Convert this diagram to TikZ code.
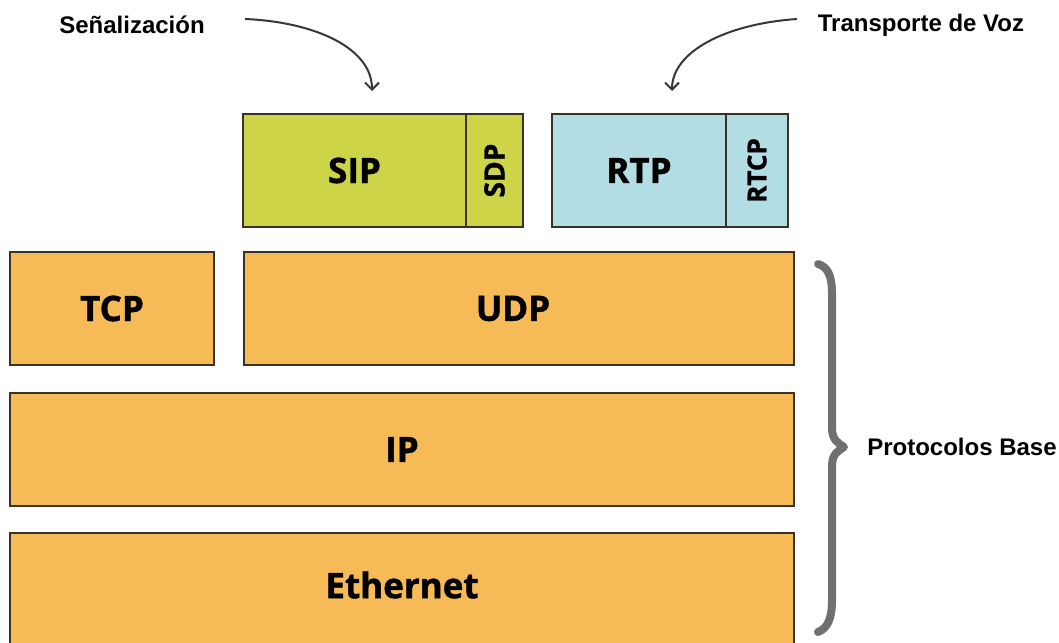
\documentclass[tikz,border=0pt]{standalone}
\usepackage{fontspec}
\usepackage{graphicx}
\setmainfont{Open Sans}[BoldFeatures={FakeBold=1.3}]
\newfontfamily\annfont{Liberation Sans}
\usetikzlibrary{arrows.meta}
\definecolor{orangebox}{RGB}{246,186,86}
\definecolor{greenbox}{RGB}{205,212,72}
\definecolor{bluebox}{RGB}{178,221,228}
\definecolor{edgec}{RGB}{58,50,36}
\definecolor{bracec}{RGB}{112,112,112}
\definecolor{arrc}{RGB}{55,55,55}
\begin{document}
\begin{tikzpicture}[x=1pt,y=-1pt,
  boxbase/.style={draw=edgec, line width=1.4pt, rectangle, inner sep=0pt, text=black},
  layerbox/.style={boxbase, fill=orangebox, minimum height=113pt, font=\bfseries\fontsize{35}{40}\selectfont},
  sigbox/.style={boxbase, fill=greenbox, minimum height=113pt, font=\bfseries\fontsize{35}{40}\selectfont},
  voicebox/.style={boxbase, fill=bluebox, minimum height=113pt, font=\bfseries\fontsize{35}{40}\selectfont},
  sdptxt/.style={font=\bfseries\fontsize{28}{30}\selectfont},
  rtcptxt/.style={font=\bfseries\fontsize{26}{30}\selectfont},
  annot/.style={font=\annfont\bfseries\fontsize{24}{28}\selectfont, inner sep=0pt, text=black},
  curvearrow/.style={draw=arrc, line width=2pt, -{Straight Barb[length=7pt,width=14pt,line width=2pt]}}
]
\useasboundingbox (0,0) rectangle (1059,642);
\clip (0,0) rectangle (1059,642);

% upper application boxes
\node[sigbox, minimum width=223pt] (sip) at (354.5,170.5) {SIP};
\node[sigbox, sdptxt, minimum width=57pt] (sdp) at (494.5,170.5) {\rotatebox{90}{SDP}};
\node[voicebox, minimum width=174pt] (rtp) at (639,170.5) {RTP};
\node[voicebox, rtcptxt, minimum width=62pt] (rtcp) at (757,170.5) {\rotatebox{90}{RTCP}};

% base protocol layers
\node[layerbox, minimum width=204pt] (tcp) at (112,308.5) {TCP};
\node[layerbox, minimum width=550pt] (udp) at (519,308.5) {\hspace*{-12pt}UDP};
\node[layerbox, minimum width=784pt] (ip) at (402,449.5) {\raisebox{-5pt}{IP}};
\fill[orangebox] (10,533) rectangle (794,660);
\draw[edgec, line width=1.4pt] (10,660) -- (10,533) -- (794,533) -- (794,660);
\node[font=\bfseries\fontsize{35}{40}\selectfont, inner sep=0pt] (eth) at (402,585) {Ethernet};

% annotations
\node[annot] (senal) at (132,25) {Señalización};
\node[annot] (transp) at (921,25) {Transporte de Voz};
\node[annot] (prot) at (962,447) {Protocolos Base};

\coordinate (s1) at (245,19);
\coordinate (s2) at (372,91);
\coordinate (t1) at (797,19);
\coordinate (t2) at (672,91);
\draw[curvearrow] (s1) .. controls (315,22) and (372,48) .. (s2);
\draw[curvearrow] (t1) .. controls (725,24) and (672,52) .. (t2);

% brace
\draw[bracec, line width=8pt, line cap=round, line join=round]
  (818,264) .. controls (828,267) and (832,276) .. (832,294)
  -- (832,428) .. controls (832,440) and (838,443) .. (844,447)
  .. controls (838,451) and (832,454) .. (832,466)
  -- (832,600) .. controls (832,618) and (828,628) .. (818,632);
\end{tikzpicture}
\end{document}
